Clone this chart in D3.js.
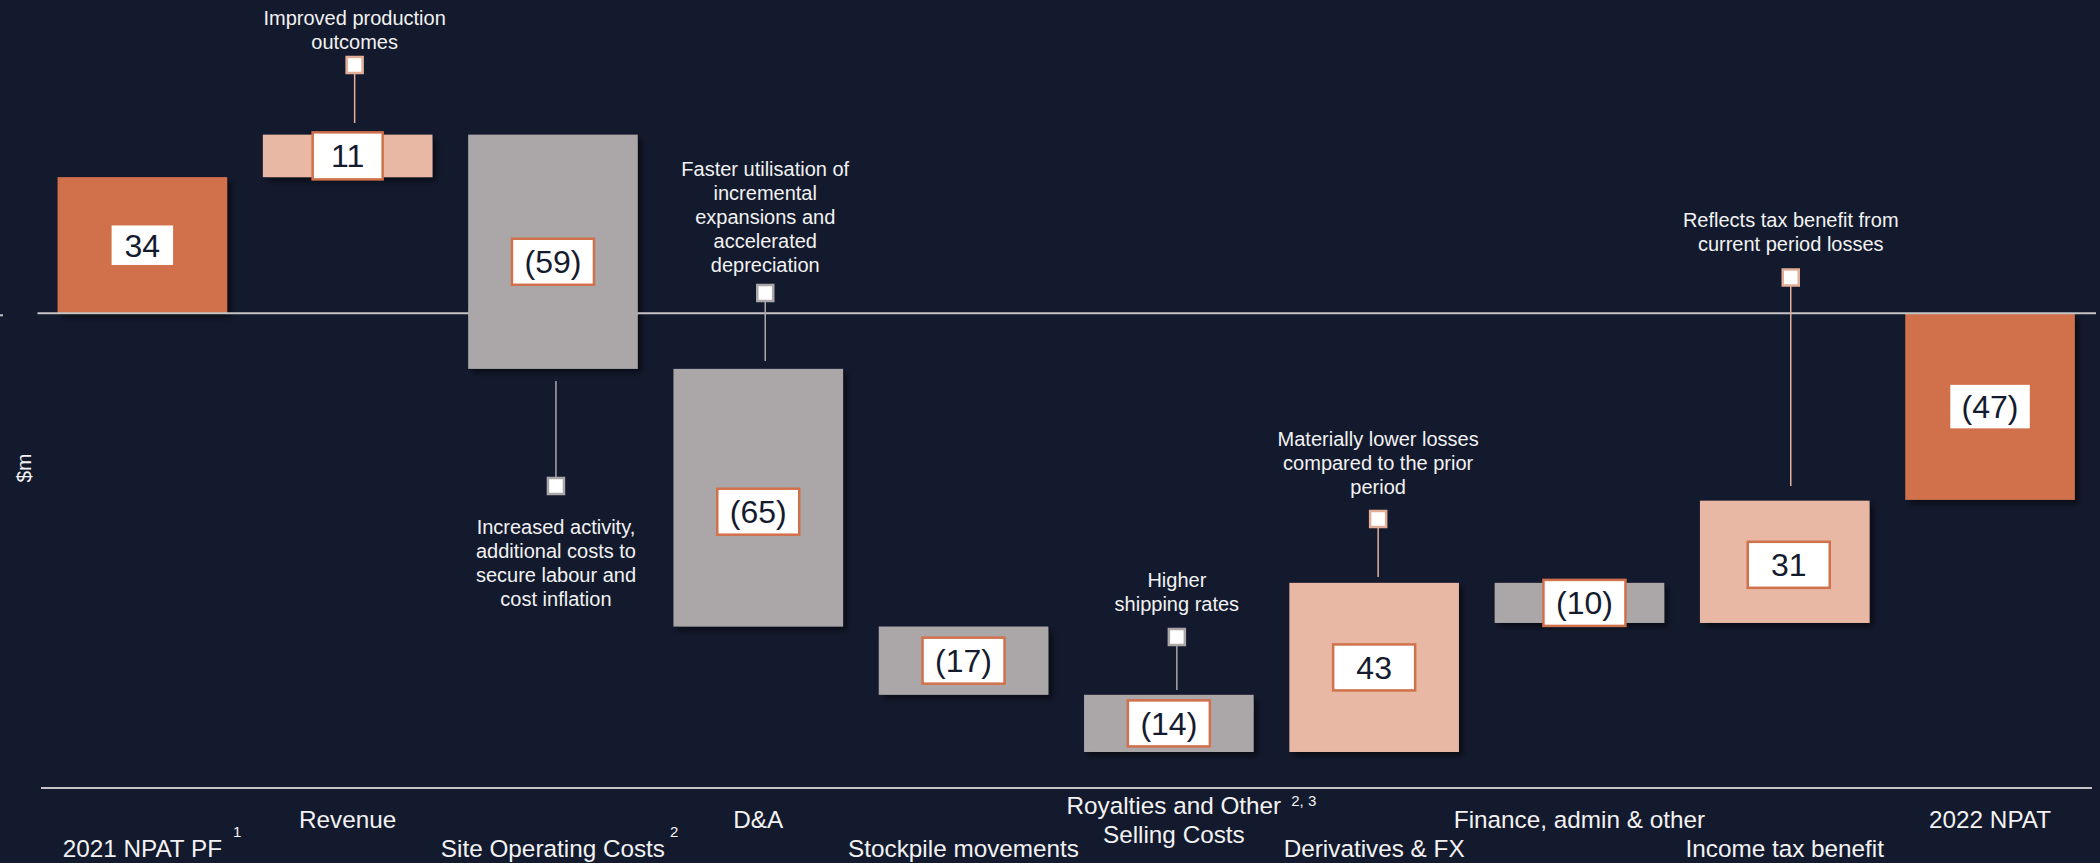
<!DOCTYPE html>
<html><head><meta charset="utf-8">
<script src="https://cdn.jsdelivr.net/npm/d3@7"></script>
<style>
html,body{margin:0;padding:0;background:#141a2e;overflow:hidden;}
svg{display:block;}
text{font-family:"Liberation Sans",Arial,Helvetica,sans-serif;}
</style></head><body>
<svg id="chart" width="2100" height="863"></svg>
<script>
// ---------------- DATA ----------------
const categories = ["2021 NPAT PF","Revenue","Site Operating Costs","D&A","Stockpile movements",
  "Royalties and Other Selling Costs","Derivatives & FX","Finance, admin & other","Income tax benefit","2022 NPAT"];
const categoryLines = [["2021 NPAT PF"],["Revenue"],["Site Operating Costs"],["D&A"],["Stockpile movements"],
  ["Royalties and Other","Selling Costs"],["Derivatives & FX"],["Finance, admin & other"],["Income tax benefit"],["2022 NPAT"]];
const values = [34.3, 10.7, -59.0, -64.9, -17.2, -14.4, 42.6, -10.1, 30.8, -47.0];
const kinds = ["total","delta","delta","delta","delta","delta","delta","delta","delta","total"];
const valueLabels = ["34","11","(59)","(65)","(17)","(14)","43","(10)","31","(47)"];
const superscripts = ["1","","2","","","2, 3","","","",""];
const annotationCategories = ["Revenue","Site Operating Costs","D&A","Royalties and Other Selling Costs","Derivatives & FX","Income tax benefit"];
const annotationTexts = [
  ["Improved production","outcomes"],
  ["Increased activity,","additional costs to","secure labour and","cost inflation"],
  ["Faster utilisation of","incremental","expansions and","accelerated","depreciation"],
  ["Higher","shipping rates"],
  ["Materially lower losses","compared to the prior","period"],
  ["Reflects tax benefit from","current period losses"]
];
const axisTitle = "$m";

// ---------------- LAYOUT / STYLE ----------------
const W = 2100, H = 863;
const COLORS = {total:"#d1714b", up:"#e8b8a5", down:"#aba7a8", bg:"#141a2e", text:"#f2f2f2", dark:"#151b2f", axis:"#c4c4c4"};
const svg = d3.select("#chart");
svg.append("rect").attr("width",W).attr("height",H).attr("fill",COLORS.bg);

const defs = svg.append("defs");
const f = defs.append("filter").attr("id","shadow").attr("x","-10%").attr("y","-10%").attr("width","130%").attr("height","130%");
f.append("feDropShadow").attr("dx",4).attr("dy",4).attr("stdDeviation",3).attr("flood-color","#000").attr("flood-opacity",0.55);

const x = d3.scaleBand().domain(categories).range([39.7, 2092.7]).paddingInner(0.174).paddingOuter(0.087);
const y = d3.scaleLinear().domain([50, -115]).range([313.3 - 50*3.97, 313.3 + 115*3.97]);

// waterfall geometry
let running = 0;
const bars = categories.map((c,i) => {
  let start, end;
  if (kinds[i] === "total") { start = 0; end = values[i]; running = values[i]; }
  else { start = running; end = running + values[i]; running = end; }
  const color = kinds[i] === "total" ? COLORS.total : (values[i] >= 0 ? COLORS.up : COLORS.down);
  return {c, i, start, end, top: y(Math.max(start,end)), bottom: y(Math.min(start,end)), color};
});

// y-axis title
svg.append("text").attr("transform",`translate(31,468) rotate(-90)`).attr("text-anchor","middle")
  .attr("font-size",21).attr("fill",COLORS.text).text(axisTitle);
svg.append("line").attr("x1",0).attr("x2",3).attr("y1",y(0)+2).attr("y2",y(0)+2).attr("stroke",COLORS.axis).attr("stroke-width",2);

// bars
svg.append("g").selectAll("rect").data(bars).join("rect")
  .attr("x", d => x(d.c)).attr("width", x.bandwidth())
  .attr("y", d => d.top).attr("height", d => d.bottom - d.top)
  .attr("fill", d => d.color).attr("filter","url(#shadow)");

// zero line
svg.append("line").attr("x1",37.5).attr("x2",2096).attr("y1",y(0)).attr("y2",y(0))
  .attr("stroke",COLORS.axis).attr("stroke-width",2);
// bottom axis line
svg.append("line").attr("x1",41).attr("x2",2092).attr("y1",788).attr("y2",788)
  .attr("stroke",COLORS.axis).attr("stroke-width",2);

// bars crossing zero hide the zero line
svg.append("g").selectAll("rect").data(bars.filter(d => d.top < y(0) && d.bottom > y(0))).join("rect")
  .attr("x", d => x(d.c)).attr("width", x.bandwidth())
  .attr("y", y(0)-2).attr("height", 4).attr("fill", d => d.color);

// value label boxes
const boxW = {0:64, 1:70}, boxH = {0:42, 1:47}, boxDy = {2:10, 3:14, 8:3}, boxDx = {7:5, 8:4};
const lbl = svg.append("g").selectAll("g").data(bars).join("g")
  .attr("transform", d => {
    const cx = x(d.c) + x.bandwidth()/2 + (boxDx[d.i]||0);
    const cy = (d.top + d.bottom)/2 + (boxDy[d.i]||0);
    return `translate(${cx},${cy})`;
  });
lbl.append("rect")
  .attr("x", d => -(boxW[d.i]||82)/2).attr("y", d => -(boxH[d.i]||46)/2)
  .attr("width", d => boxW[d.i]||82).attr("height", d => boxH[d.i]||46)
  .attr("fill","#ffffff").attr("stroke",COLORS.total).attr("stroke-width",2.5);
lbl.append("text").attr("text-anchor","middle").attr("y",11.3).attr("font-size",32)
  .attr("fill",COLORS.dark).text((d) => valueLabels[d.i]);

// category labels
const rowBase = {upper:828, lower:857};
const catG = svg.append("g");
categories.forEach((c,i) => {
  const lines = categoryLines[i];
  let cx = x(c) + x.bandwidth()/2;
  let bases;
  if (lines.length === 2) { cx += 5; bases = [814, 843]; }
  else bases = [i % 2 === 0 ? rowBase.lower : rowBase.upper];
  let firstEnd = null;
  lines.forEach((ln,k) => {
    const t = catG.append("text").attr("x",cx).attr("y",bases[k]).attr("text-anchor","middle")
      .attr("font-size",24.3).attr("fill",COLORS.text).text(ln);
    if (k === 0) firstEnd = cx + t.node().getComputedTextLength()/2;
  });
  if (superscripts[i]) {
    const gap = lines.length === 2 ? 10 : (i === 0 ? 11 : 5);
    const sy = lines.length === 2 ? bases[0] - 8 : 837;
    catG.append("text").attr("x", firstEnd + gap).attr("y", sy).attr("font-size",15)
      .attr("fill",COLORS.text).text(superscripts[i]);
  }
});

// annotations
const annoLayout = [
  {dx:7, side:"above", textBase:25,    markerTop:57,  lineEnd:123},
  {dx:3, side:"below", textBase:534,   markerTop:478, lineStart:381},
  {dx:7, side:"above", textBase:175.7, markerTop:285, lineEnd:361},
  {dx:8, side:"above", textBase:586.7, markerTop:629, lineEnd:690},
  {dx:4, side:"above", textBase:445.7, markerTop:511, lineEnd:577},
  {dx:6, side:"above", textBase:226.7, markerTop:269.5, lineEnd:486}
];
const M = 16, LH = 24;
const annoG = svg.append("g");
annotationCategories.forEach((c,k) => {
  const L = annoLayout[k];
  const b = bars[categories.indexOf(c)];
  const cx = x(c) + x.bandwidth()/2 + L.dx;
  const col = b.color === COLORS.down ? COLORS.down : "#e3ae98";
  if (L.side === "above") {
    annoG.append("line").attr("x1",cx).attr("x2",cx).attr("y1",L.markerTop+M).attr("y2",L.lineEnd)
      .attr("stroke",col).attr("stroke-width",1.5);
  } else {
    annoG.append("line").attr("x1",cx).attr("x2",cx).attr("y1",L.lineStart).attr("y2",L.markerTop)
      .attr("stroke",col).attr("stroke-width",1.5);
  }
  annoG.append("rect").attr("x",cx-M/2).attr("y",L.markerTop).attr("width",M).attr("height",M)
    .attr("fill","#ffffff").attr("stroke",col).attr("stroke-width",2.5);
  annotationTexts[k].forEach((ln,j) => {
    annoG.append("text").attr("x",cx).attr("y",L.textBase + j*LH).attr("text-anchor","middle")
      .attr("font-size",20).attr("fill",COLORS.text).text(ln);
  });
});
</script>
</body></html>
